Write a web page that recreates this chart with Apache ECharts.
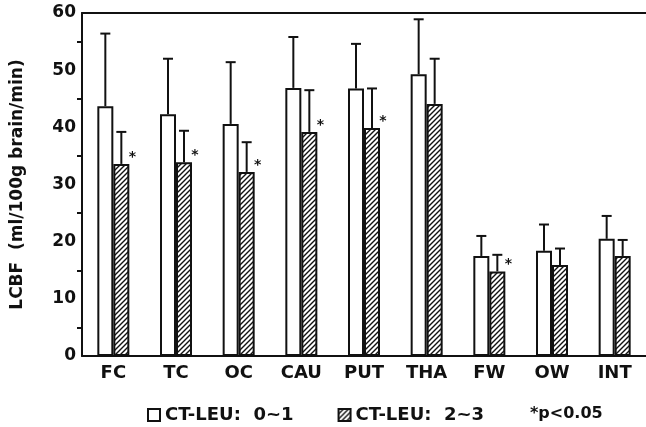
<!DOCTYPE html>
<html>
<head>
<meta charset="utf-8">
<script src="https://cdn.jsdelivr.net/npm/echarts@6/dist/echarts.min.js"></script>
<style>
  html, body { margin: 0; padding: 0; background: #fff; }
  #chart { width: 646px; height: 427px; }
</style>
</head>
<body>
<div id="chart"></div>
<script>
// regions
var categories = ['FC', 'TC', 'OC', 'CAU', 'PUT', 'THA', 'FW', 'OW', 'INT'];
// CT-LEU 0~1 : mean and SD
var leu01 = [43.7, 42.3, 40.6, 46.9, 46.8, 49.3, 17.5, 18.4, 20.5];
var leu01Sd = [12.7, 9.7, 10.8, 8.9, 7.8, 9.6, 3.5, 4.6, 4.0];
// CT-LEU 2~3 : mean and SD
var leu23 = [33.6, 33.9, 32.2, 39.2, 39.9, 44.1, 14.8, 15.9, 17.5];
var leu23Sd = [5.6, 5.5, 5.2, 7.3, 6.9, 7.9, 2.9, 2.9, 2.8];
// *p<0.05 marks
var significant = [1, 1, 1, 1, 1, 0, 1, 0, 0];
var yTicks = [0, 10, 20, 30, 40, 50, 60];

var FONT = '"DejaVu Sans", sans-serif';
var BAR_W = 16;

// hatch pattern ////
function makeHatch() {
  var c = document.createElement('canvas');
  c.width = 5; c.height = 5;
  var ctx = c.getContext('2d');
  ctx.fillStyle = '#fff';
  ctx.fillRect(0, 0, 5, 5);
  ctx.strokeStyle = '#111';
  ctx.lineWidth = 1.4;
  ctx.beginPath();
  ctx.moveTo(-1, 6); ctx.lineTo(6, -1);
  ctx.moveTo(-1, 1); ctx.lineTo(1, -1);
  ctx.moveTo(4, 6); ctx.lineTo(6, 4);
  ctx.stroke();
  return c;
}
var hatch = { image: makeHatch(), repeat: 'repeat' };

function errData(means, sds) {
  return means.map(function (m, i) { return [i, m, m + sds[i]]; });
}

function errRender(offset) {
  return function (params, api) {
    var base = api.coord([api.value(0), api.value(1)]);
    var top = api.coord([api.value(0), api.value(2)]);
    var x = base[0] + offset;
    var style = { stroke: '#111', lineWidth: 2 };
    return {
      type: 'group',
      children: [
        { type: 'line', shape: { x1: x, y1: base[1], x2: x, y2: top[1] }, style: style },
        { type: 'line', shape: { x1: x - 5, y1: top[1], x2: x + 5, y2: top[1] }, style: style }
      ]
    };
  };
}

var hatchData = leu23.map(function (v, i) {
  return {
    value: v,
    label: {
      show: significant[i] === 1,
      formatter: '*',
      position: [BAR_W + 3, -7],
      align: 'center',
      verticalAlign: 'middle',
      color: '#111',
      fontSize: 14,
      fontWeight: 'bold',
      fontFamily: FONT
    }
  };
});

var chart = echarts.init(document.getElementById('chart'));
chart.setOption({
  animation: false,
  backgroundColor: '#fff',
  grid: { left: 82, right: -1, top: 13, bottom: 71 },
  legend: {
    left: 142,
    top: 401,
    itemWidth: 12,
    itemHeight: 12,
    itemGap: 44,
    textStyle: { fontFamily: FONT, fontWeight: 'bold', fontSize: 18, color: '#111' },
    data: [
      { name: 'CT-LEU:  0~1', icon: 'rect', itemStyle: { color: '#fff', borderColor: '#111', borderWidth: 2 } },
      { name: 'CT-LEU:  2~3', icon: 'rect', itemStyle: { color: hatch, borderColor: '#111', borderWidth: 2 } }
    ]
  },
  graphic: [
    {
      type: 'text', left: 530, top: 406,
      style: { text: '*p<0.05', fontFamily: FONT, fontWeight: 'bold', fontSize: 16, fill: '#111' }
    }
  ],
  xAxis: [
    {
      type: 'category',
      data: categories,
      axisLine: { lineStyle: { color: '#111', width: 2 } },
      axisTick: { show: false },
      axisLabel: { color: '#111', fontFamily: FONT, fontWeight: 'bold', fontSize: 18, margin: 8 }
    },
    {
      type: 'category',
      position: 'top',
      data: categories,
      axisLine: { show: true, lineStyle: { color: '#111', width: 2 } },
      axisTick: { show: false },
      axisLabel: { show: false }
    }
  ],
  yAxis: {
    type: 'value',
    min: yTicks[0],
    max: yTicks[yTicks.length - 1],
    interval: 10,
    name: 'LCBF  (ml/100g brain/min)',
    nameLocation: 'middle',
    nameGap: 56,
    nameTextStyle: { color: '#111', fontFamily: FONT, fontWeight: 'bold', fontSize: 17 },
    axisLine: { show: true, lineStyle: { color: '#111', width: 2 } },
    axisTick: { show: false },
    minorTick: { show: true, splitNumber: 2, length: 5, lineStyle: { color: '#111', width: 2 } },
    splitLine: { show: false },
    axisLabel: { color: '#111', fontFamily: FONT, fontWeight: 'bold', fontSize: 17, margin: 6 }
  },
  series: [
    {
      name: 'CT-LEU:  0~1',
      type: 'bar',
      data: leu01,
      barWidth: BAR_W,
      barGap: '0%',
      itemStyle: { color: '#fff', borderColor: '#111', borderWidth: 2 }
    },
    {
      name: 'CT-LEU:  2~3',
      type: 'bar',
      data: hatchData,
      barWidth: BAR_W,
      itemStyle: { color: hatch, borderColor: '#111', borderWidth: 2 }
    },
    {
      type: 'custom',
      data: errData(leu01, leu01Sd),
      renderItem: errRender(-BAR_W / 2),
      z: 5
    },
    {
      type: 'custom',
      data: errData(leu23, leu23Sd),
      renderItem: errRender(BAR_W / 2),
      z: 5
    }
  ]
});
</script>
</body>
</html>
